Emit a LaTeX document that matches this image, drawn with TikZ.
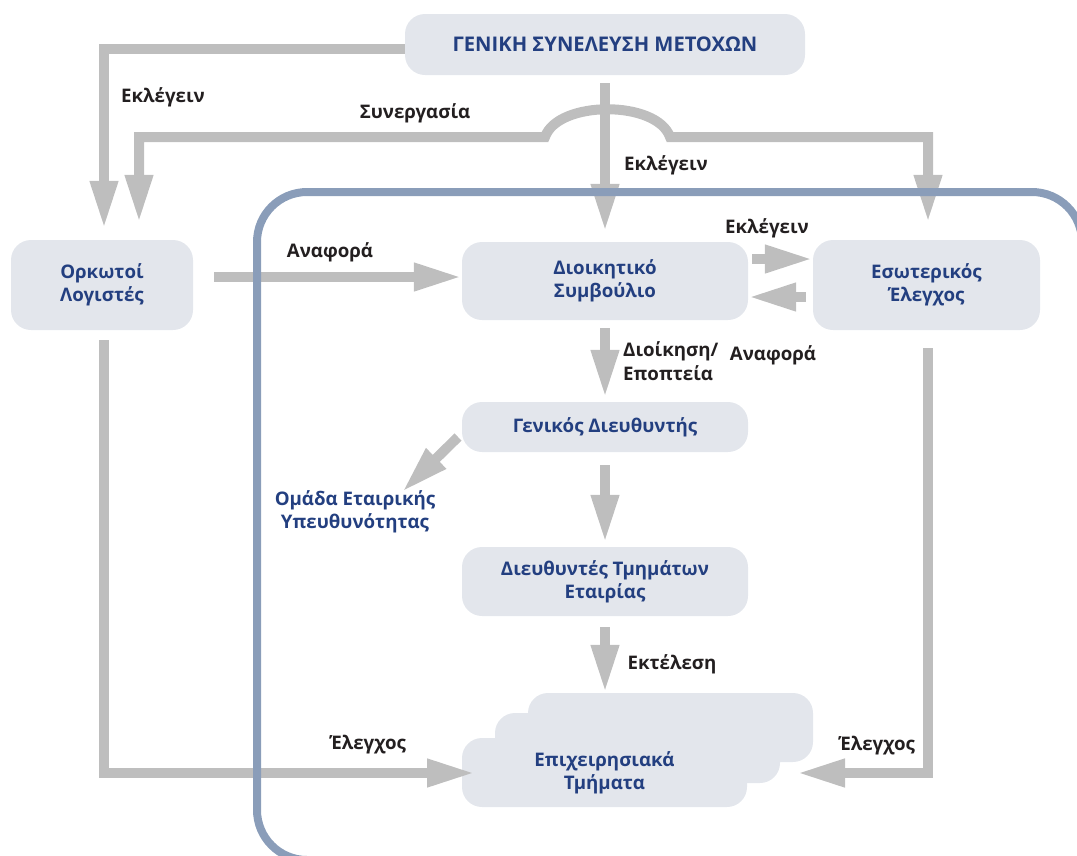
\documentclass[tikz,border=0pt]{standalone}
\usepackage{fontspec}
\setmainfont{Open Sans}
\usetikzlibrary{arrows.meta,calc}
\definecolor{boxfill}{HTML}{E3E6EC}
\definecolor{boxtext}{HTML}{233F80}
\definecolor{arrgray}{HTML}{BEBEBE}
\definecolor{framec}{HTML}{8A9DB9}
\definecolor{labtext}{HTML}{231F20}
\begin{document}
\begin{tikzpicture}[x=1pt,y=-1pt,
  box/.style={fill=boxfill, rounded corners=20pt, text=boxtext, align=center, inner sep=0pt,
    font=\fontsize{18.7}{23}\selectfont\bfseries},
  lab/.style={text=labtext, inner sep=0pt, font=\fontsize{18.7}{24}\selectfont\bfseries},
  arr/.style={draw=arrgray, line width=10pt, -{Triangle[width=26pt,length=48pt]}},
  biarr/.style={draw=arrgray, line width=10pt, {Triangle[width=26pt,length=48pt]}-{Triangle[width=26pt,length=48pt]}}
]
\useasboundingbox (0,0) rectangle (1077,855);
\clip (0,0) rectangle (1077,855);

% boxes
\node[box, minimum width=400pt, minimum height=61pt, font=\fontsize{20.2}{24}\selectfont\bfseries] (gsm) at (605,44.5) {ΓΕΝΙΚΗ ΣΥΝΕΛΕΥΣΗ ΜΕΤΟΧΩΝ};
\node[box, minimum width=182pt, minimum height=90pt] (orl) at (102,285) {Ορκωτοί\\Λογιστές};
\node[box, minimum width=286pt, minimum height=78pt] (dsb) at (605,281) {Διοικητικό\\Συμβούλιο};
\node[box, minimum width=227pt, minimum height=90pt] (eso) at (926.5,285) {Εσωτερικός\\Έλεγχος};
\node[box, minimum width=286pt, minimum height=50pt] (gen) at (605,427) {Γενικός Διευθυντής};
\node[box, minimum width=286pt, minimum height=69pt] (dtm) at (605,581.5) {Διευθυντές Τμημάτων\\Εταιρίας};
\node[box, minimum width=285pt, minimum height=69pt] (ep3) at (670.5,727.5) {};
\node[box, minimum width=285pt, minimum height=70pt] (ep2) at (637.5,748) {};
\node[box, minimum width=285pt, minimum height=69pt] (ep1) at (604.5,772.5) {Επιχειρησιακά\\Τμήματα};
\node[box, fill=none] (omada) at (355,512) {Ομάδα Εταιρικής\\Υπευθυνότητας};

% coordinates
\coordinate (c1) at (545,137);
\coordinate (c2) at (670,137);
\coordinate (d1) at (458,437);
\coordinate (d2) at (402,492);
\coordinate (eL) at (475,773);
\coordinate (eR) at (797,773);

% connectors
\draw[arr, shorten >=11pt] ([yshift=-4pt]gsm.west) -| ([xshift=2pt]orl.north);
\draw[biarr, shorten <=17pt, shorten >=17pt] ([xshift=37pt]orl.north) |- (c1)
   .. controls (558,100) and (657,100) .. (c2) -| ([xshift=1.5pt]eso.north);
\draw[arr, shorten <=8pt, shorten >=10pt] (gsm.south) -- (dsb.north);
\draw[arr, shorten <=21pt] ([yshift=8pt]orl.east) -- ([yshift=8pt]orl.east -| dsb.west);
\draw[arr, shorten <=4pt] ([yshift=22pt]dsb.east) -- ([yshift=22pt]dsb.east -| eso.west);
\draw[arr, shorten <=7pt] ([yshift=-16pt]dsb.east -| eso.west) -- ([yshift=-16pt]dsb.east);
\draw[arr, shorten <=8pt, shorten >=4pt] (dsb.south) -- (gen.north);
\draw[arr] (d1) -- (d2);
\draw[arr, shorten <=13pt, shorten >=4pt] (gen.south) -- (dtm.north);
\draw[arr, shorten <=11pt] (dtm.south) -- (dtm.south |- ep3.north);
\draw[arr, shorten <=10pt] ([xshift=2pt]orl.south) |- (eL);
\draw[arr, shorten <=18pt] ([xshift=1.5pt]eso.south) |- (eR);

% frame
\draw[framec, line width=8pt] (700,860) [rounded corners=50pt] -- (257,860) -- (257,192) -- (1082,192) [rounded corners=37pt] -- (1082,900);

% labels
\node[lab] (l1) at (163,97) {Εκλέγειν};
\node[lab] (l2) at (415,113) {Συνεργασία};
\node[lab] (l3) at (666,165) {Εκλέγειν};
\node[lab] (l4) at (330,252) {Αναφορά};
\node[lab] (l5) at (767,228) {Εκλέγειν};
\node[lab, align=left, anchor=west] (l6) at (623,361) {Διοίκηση/\\Εποπτεία};
\node[lab] (l7) at (773,355) {Αναφορά};
\node[lab] (l8) at (672,664) {Εκτέλεση};
\node[lab] (l9) at (368,745) {Έλεγχος};
\node[lab] (l10) at (877,746) {Έλεγχος};
\end{tikzpicture}
\end{document}
